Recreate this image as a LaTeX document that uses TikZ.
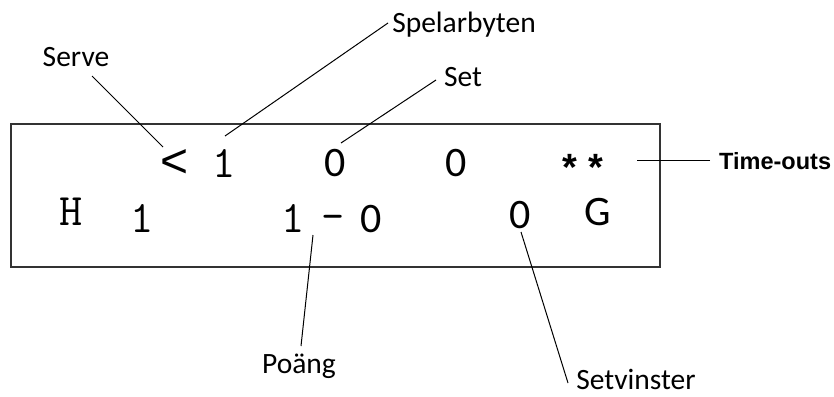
\documentclass[tikz,border=0pt]{standalone}
\usepackage{fontspec}
\setmainfont{Carlito}
\newfontfamily\monof{Latin Modern Mono}
\newfontfamily\arialf{Liberation Sans}
\begin{document}
\begin{tikzpicture}[x=1pt,y=-1pt,
  lbl/.style={inner sep=0pt,font=\fontsize{29.5}{32}\selectfont},
  glyphm/.style={inner sep=0pt,anchor=base,font=\monof\fontsize{45}{50}\selectfont},
  glyphs/.style={inner sep=0pt,anchor=base,font=\fontsize{42}{46}\selectfont},
  star/.style={inner sep=0pt,anchor=base,font=\arialf\bfseries\fontsize{38}{40}\selectfont},
  conn/.style={draw=black,line width=1pt},
  board/.style={draw=black!80,line width=1.6pt}]
\useasboundingbox (0,0) rectangle (834,396);
\draw[board] (11,124) rectangle (660,267);
% top row
\node[inner sep=0pt,anchor=base,font=\arialf\fontsize{48}{52}\selectfont] (serveg) at (175,177) {<};
\node[glyphm] (top1) at (224,177) {1};
\node[glyphs] (top0a) at (335,176) {0};
\node[glyphs] (top0b) at (456,176) {0};
\node[star] (star1) at (570,180) {*};
\node[star] (star2) at (596,180) {*};
% bottom row
\node[glyphm] (H) at (71,225) {H};
\node[glyphm] (b1) at (142,232) {1};
\node[glyphm] (p1) at (293,232) {1};
\node[glyphm] (dash) at (333,230) {-};
\node[glyphs] (p0) at (371,232) {0};
\node[glyphs] (s0) at (520,228) {0};
\node[glyphs] (G) at (598,225) {G};
% labels
\node[lbl] (serve) at (76,57) {Serve};
\node[lbl] (spel) at (464,25) {Spelarbyten};
\node[lbl] (set) at (463,77) {Set};
\node[lbl] (poang) at (299,366) {Poäng};
\node[lbl] (setv) at (636,379) {Setvinster};
\node[inner sep=0pt,anchor=west,font=\arialf\bfseries\fontsize{23.5}{26}\selectfont] (to) at (719,161) {Time-outs};
% connector endpoints
\coordinate (c1a) at (92,76);   \coordinate (c1b) at (163,147);
\coordinate (c2a) at (388,23);  \coordinate (c2b) at (225,136);
\coordinate (c3a) at (436,80);  \coordinate (c3b) at (341,143);
\coordinate (c4a) at (301,346); \coordinate (c4b) at (313,235);
\coordinate (c5a) at (568,383); \coordinate (c5b) at (521,232);
\coordinate (c6a) at (710,160); \coordinate (c6b) at (637,160);
\draw[conn] (c1a) -- (c1b);
\draw[conn] (c2a) -- (c2b);
\draw[conn] (c3a) -- (c3b);
\draw[conn] (c4a) -- (c4b);
\draw[conn] (c5a) -- (c5b);
\draw[conn] (c6a) -- (c6b);
\end{tikzpicture}
\end{document}
